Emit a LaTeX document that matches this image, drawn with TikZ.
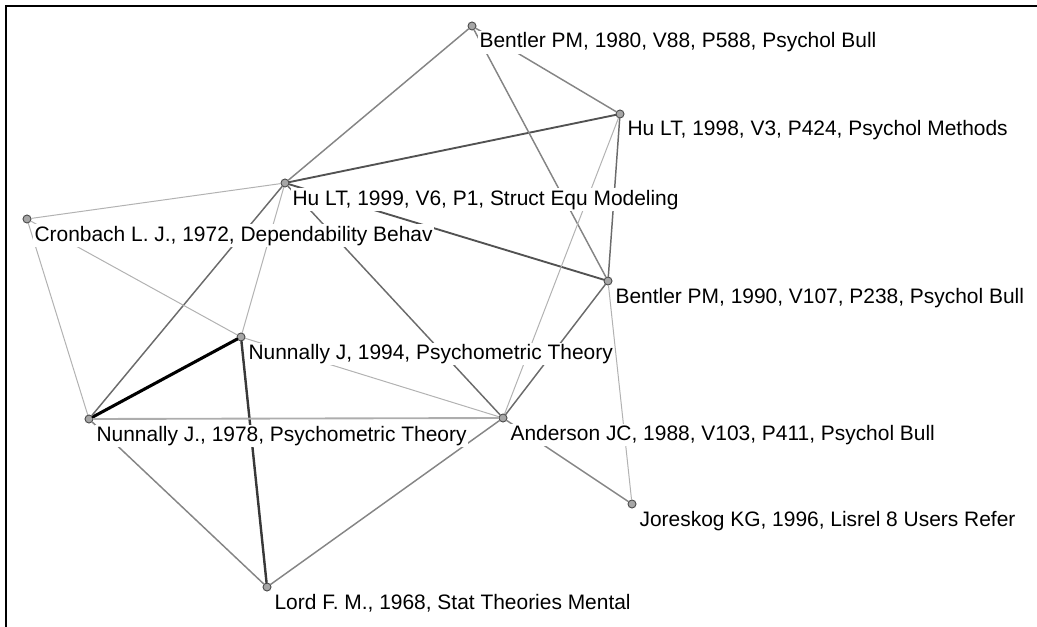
\documentclass[tikz,border=0pt]{standalone}
\usepackage{fontspec}
\setmainfont{Liberation Sans}
\begin{document}
\begin{tikzpicture}[x=0.75pt,y=-0.75pt,line cap=round,
    dot/.style={draw=black!70,fill=black!35,circle,inner sep=0pt,minimum size=6pt,line width=0.7pt},
    lbl/.style={fill=white,inner sep=1pt,anchor=base west,font=\fontsize{15.7}{18}\selectfont},
    tieA/.style={draw=black,line width=2.3pt},
    tieB/.style={draw=black!78,line width=1.8pt},
    tieC/.style={draw=black!68,line width=1.4pt},
    tieD/.style={draw=black!58,line width=1.1pt},
    tieE/.style={draw=black!48,line width=1.1pt},
    tieF/.style={draw=black!30,line width=0.75pt},
    tieG/.style={draw=black!32,line width=1.4pt}]

    \useasboundingbox (0,0) rectangle (1037,627);
    \draw[line width=1.5pt] (6,627) -- (6,6) -- (1037,6);

    % cited references
    \node [dot] (b80)   at (472,26)  {};
    \node [dot] (hu98)  at (620,114) {};
    \node [dot] (hu99)  at (285,183) {};
    \node [dot] (cr72)  at (27,219)  {};
    \node [dot] (b90)   at (608,281) {};
    \node [dot] (n94)   at (241,337) {};
    \node [dot] (n78)   at (89,419)  {};
    \node [dot] (and88) at (503,418) {};
    \node [dot] (jor96) at (632,504) {};
    \node [dot] (lord68) at (267,587) {};

    % co-citation links
    \path (n78) edge[tieA] (n94);
    \path (n94) edge[tieB] (lord68);
    \path (hu99) edge[tieC] (hu98);
    \path (hu99) edge[tieC] (b90);
    \path (hu98) edge[tieD] (b90);
    \path (hu99) edge[tieD] (n78);
    \path (hu99) edge[tieD] (and88);
    \path (and88) edge[tieD] (b90);
    \path (b80) edge[tieE] (hu99);
    \path (b80) edge[tieE] (hu98);
    \path (b80) edge[tieE] (b90);
    \path (n78) edge[tieE] (lord68);
    \path (and88) edge[tieE] (lord68);
    \path (and88) edge[tieE] (jor96);
    \path (n78) edge[tieG] (and88);
    \path (hu99) edge[tieF] (cr72);
    \path (hu99) edge[tieF] (n94);
    \path (cr72) edge[tieF] (n78);
    \path (cr72) edge[tieF] (n94);
    \path (n94) edge[tieF] (and88);
    \path (hu98) edge[tieF] (and88);
    \path (b90) edge[tieF] (jor96);

    % labels
    \node [lbl] (b80-t)   at ([shift={(6,22)}]b80.center)   {Bentler PM, 1980, V88, P588, Psychol Bull};
    \node [lbl] (hu98-t)  at ([shift={(6,22)}]hu98.center)  {Hu LT, 1998, V3, P424, Psychol Methods};
    \node [lbl] (hu99-t)  at ([shift={(6,22)}]hu99.center)  {Hu LT, 1999, V6, P1, Struct Equ Modeling};
    \node [lbl] (cr72-t)  at ([shift={(6,22)}]cr72.center)  {Cronbach L. J., 1972, Dependability Behav};
    \node [lbl] (b90-t)   at ([shift={(6,22)}]b90.center)   {Bentler PM, 1990, V107, P238, Psychol Bull};
    \node [lbl] (n94-t)   at ([shift={(6,22)}]n94.center)   {Nunnally J, 1994, Psychometric Theory};
    \node [lbl] (n78-t)   at ([shift={(6,22)}]n78.center)   {Nunnally J., 1978, Psychometric Theory};
    \node [lbl] (and88-t) at ([shift={(6,22)}]and88.center) {Anderson JC, 1988, V103, P411, Psychol Bull};
    \node [lbl] (jor96-t) at ([shift={(6,22)}]jor96.center) {Joreskog KG, 1996, Lisrel 8 Users Refer};
    \node [lbl] (lord68-t) at ([shift={(6,22)}]lord68.center) {Lord F. M., 1968, Stat Theories Mental};

\end{tikzpicture}
\end{document}
